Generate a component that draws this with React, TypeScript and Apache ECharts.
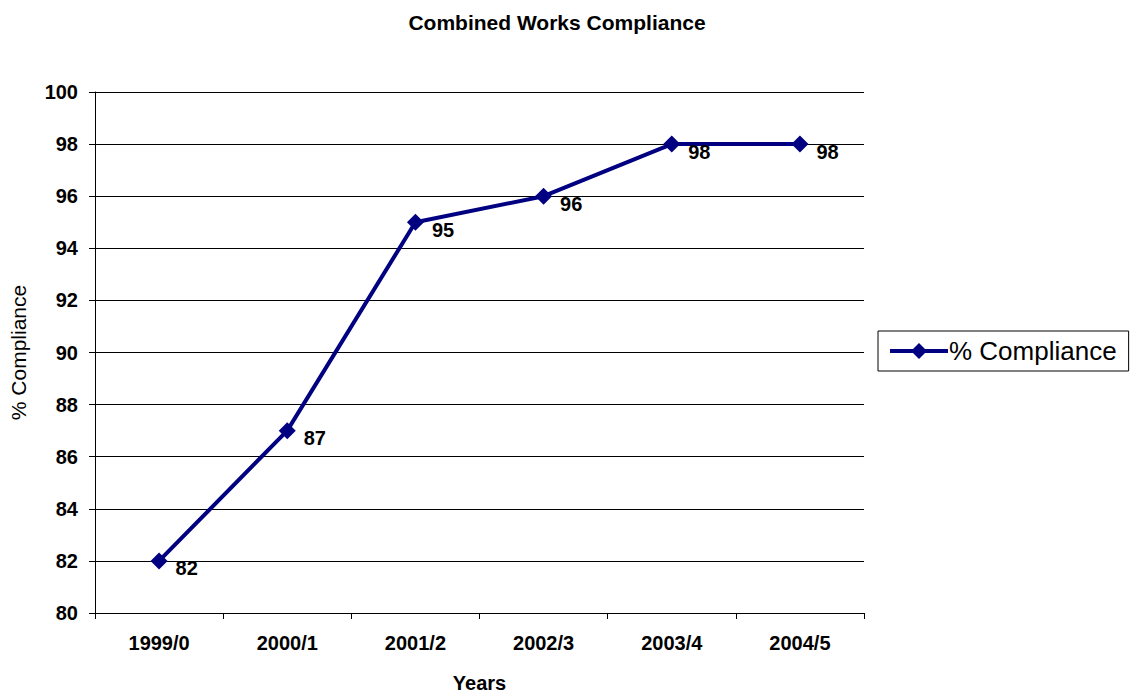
import React, { useEffect, useRef } from "react";
import * as echarts from "echarts";

const categories = ["1999/0", "2000/1", "2001/2", "2002/3", "2003/4", "2004/5"];
const compliance = [82, 87, 95, 96, 98, 98];
const seriesName = "% Compliance";
const titleText = "Combined Works Compliance";
const xName = "Years";
const yName = "% Compliance";

const FONT = "'Liberation Sans', Arial, sans-serif";

export default function App() {
  const ref = useRef<HTMLDivElement>(null);
  useEffect(() => {
    if (!ref.current) return;
    const chart = echarts.init(ref.current, undefined, { renderer: "svg" });
    chart.setOption({
      animation: false,
      backgroundColor: "#ffffff",
      textStyle: { fontFamily: FONT },
      title: {
        text: titleText,
        left: 552,
        top: 7,
        textAlign: "center",
        textStyle: { fontFamily: FONT, fontSize: 21, fontWeight: "bold", color: "#000" },
      },
      legend: {
        left: 878,
        top: 331,
        orient: "vertical",
        padding: [7, 12, 7, 10],
        borderColor: "#000",
        borderWidth: 1,
        itemWidth: 58,
        itemHeight: 20,
        itemGap: 0,
        lineStyle: { width: 4, color: "#000080" },
        textStyle: { fontFamily: FONT, fontSize: 26, color: "#000", padding: [0, 0, 0, -4] },
        data: [{ name: seriesName }],
      },
      grid: { left: 93, right: 269, top: 92, bottom: 81, containLabel: false },
      xAxis: {
        type: "category",
        data: categories,
        boundaryGap: true,
        name: xName,
        nameLocation: "middle",
        nameGap: 60,
        nameTextStyle: { fontFamily: FONT, fontSize: 20, fontWeight: "bold", color: "#000", verticalAlign: "top" },
        axisLine: { lineStyle: { color: "#000", width: 1 } },
        axisTick: { show: true, length: 6, inside: false, alignWithLabel: false, lineStyle: { color: "#000" } },
        axisLabel: { margin: 20, fontFamily: FONT, fontSize: 20, fontWeight: "bold", color: "#000" },
      },
      yAxis: {
        type: "value",
        min: 80,
        max: 100,
        interval: 2,
        name: yName,
        nameLocation: "middle",
        nameGap: 66,
        nameRotate: 90,
        nameTextStyle: { fontFamily: FONT, fontSize: 21, color: "#000" },
        axisLine: { show: true, lineStyle: { color: "#000", width: 1 } },
        axisTick: { show: true, length: 6, inside: false, lineStyle: { color: "#000" } },
        axisLabel: { margin: 17, fontFamily: FONT, fontSize: 20, fontWeight: "bold", color: "#000" },
        splitLine: { show: true, lineStyle: { color: "#000", width: 1 } },
      },
      series: [
        {
          name: seriesName,
          type: "line",
          data: compliance,
          symbol: "diamond",
          symbolSize: 17,
          lineStyle: { color: "#000080", width: 4 },
          itemStyle: { color: "#000080" },
          label: {
            show: true,
            position: [25, 16],
            align: "left",
            verticalAlign: "middle",
            fontFamily: FONT,
            fontSize: 20,
            fontWeight: "bold",
            color: "#000",
          },
        },
      ],
    });
    return () => chart.dispose();
  }, []);
  return (
    <div
      ref={ref}
      style={{ position: "fixed", left: 0, top: 0, width: 1133, height: 698, background: "#fff" }}
    />
  );
}
